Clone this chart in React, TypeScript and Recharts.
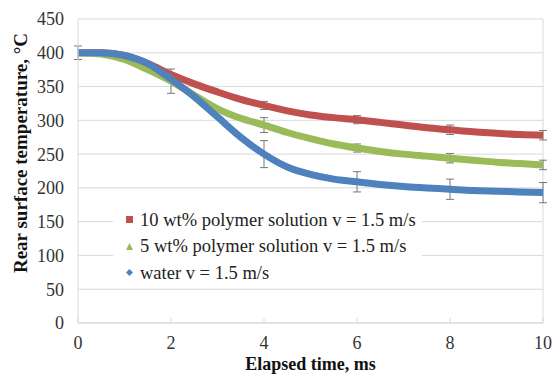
import React from 'react'
import {
  LineChart,
  Line,
  XAxis,
  YAxis,
  CartesianGrid,
  Legend,
  ErrorBar,
  ReferenceLine
} from 'recharts'

// elapsed time, ms
const time = [0, 0.5, 1, 1.5, 2, 2.5, 3, 3.5, 4, 4.5, 5, 5.5, 6, 6.5, 7, 7.5, 8, 8.5, 9, 9.5, 10]

// rear surface temperature, °C
const polymer10 = [400, 400, 396, 384, 368, 354, 342, 331, 322, 314, 308, 304, 301, 297, 293, 289, 286, 283, 281, 279, 278]
const polymer5 = [400, 398, 390, 375, 358, 337, 317, 303, 293, 282, 273, 265, 259, 254, 250, 247, 244, 241, 238, 236, 234]
const water = [400, 400, 396, 384, 361, 335, 305, 275, 250, 231, 220, 213, 209, 205, 202, 200, 198, 196, 195, 194, 193]

// error bars (only at the measured points)
const err10 = [null, null, null, null, null, null, null, null, 6, null, null, null, 6, null, null, null, 7, null, null, null, 7]
const err5 = [null, null, null, null, 18, null, null, null, 11, null, null, null, 6, null, null, null, 7, null, null, null, 7]
const errWater = [10, null, null, null, null, null, null, null, 20, null, null, null, 15, null, null, null, 15, null, null, null, 15]

const xTicks = [0, 2, 4, 6, 8, 10]
const yTicks = [0, 50, 100, 150, 200, 250, 300, 350, 400, 450]

const labels = [
  '10 wt% polymer solution v = 1.5 m/s',
  '5 wt% polymer solution v = 1.5 m/s',
  'water v = 1.5 m/s'
]

const COLORS = ['#C0504D', '#9BBB59', '#4F81BD']
const FONT = '"Liberation Serif", "Times New Roman", serif'

const data = time.map((t, i) => ({
  t,
  p10: polymer10[i],
  p5: polymer5[i],
  w: water[i],
  e10: err10[i],
  e5: err5[i],
  ew: errWater[i]
}))

const XTick = (props: any) => {
  const { x, y, payload } = props
  return (
    <g>
      <line x1={x} x2={x} y1={y - 5} y2={y} stroke="#d9d9d9" />
      <text x={x} y={y + 26} textAnchor="middle" fontFamily={FONT} fontSize={18} fill="#333">
        {payload.value}
      </text>
    </g>
  )
}

// y axis title sits a bit above the plot's middle, like the original
const YTitle = () => (
  <text
    x={20}
    y={153}
    transform="rotate(-90, 20, 153)"
    textAnchor="middle"
    dominantBaseline="central"
    fontFamily={FONT}
    fontWeight="bold"
    fontSize={19}
    fill="#111"
  >
    Rear surface temperature, °C
  </text>
)

const markers = ['square', 'triangle', 'diamond']

const LegendBox = () => (
  <div style={{ background: '#fff', fontFamily: FONT, fontSize: 18.5, color: '#222', paddingTop: 2 }}>
    {labels.map((l, i) => (
      <div key={l} style={{ display: 'flex', alignItems: 'center', height: 26.5, whiteSpace: 'nowrap' }}>
        <svg width={24} height={12} style={{ flexShrink: 0 }}>
          {markers[i] === 'square' && <rect x={13} y={2} width={7} height={7} fill={COLORS[i]} />}
          {markers[i] === 'triangle' && <polygon points="16.5,2 20,9 13,9" fill={COLORS[i]} />}
          {markers[i] === 'diamond' && <polygon points="16.5,2 20,5.5 16.5,9 13,5.5" fill={COLORS[i]} />}
        </svg>
        <span style={{ marginLeft: 3 }}>{l}</span>
      </div>
    ))}
  </div>
)

const App = () => {
  return (
    <div style={{ position: 'absolute', left: 0, top: 0, width: 553, height: 374, background: '#fff' }}>
      <LineChart width={553} height={374} data={data} margin={{ top: 19, right: 10, bottom: 0, left: 0 }}>
        <CartesianGrid vertical={false} stroke="#d9d9d9" />
        <XAxis
          dataKey="t"
          type="number"
          height={51}
          domain={[0, 10]}
          ticks={xTicks}
          interval={0}
          tickLine={false}
          tickSize={0}
          tickMargin={0}
          stroke="#d9d9d9"
          tick={<XTick />}
          label={{
            value: 'Elapsed time, ms',
            position: 'insideBottom',
            offset: 4,
            style: { fontFamily: FONT, fontWeight: 'bold', fontSize: 18, fill: '#111' }
          }}
        />
        <YAxis
          type="number"
          width={78}
          domain={[0, 450]}
          ticks={yTicks}
          interval={0}
          tickLine={false}
          stroke="#d9d9d9"
          tickMargin={8}
          tick={{ fontFamily: FONT, fontSize: 18, fill: '#333' }}
          label={<YTitle />}
        />
        <ReferenceLine x={10} stroke="#d9d9d9" />
        <Legend
          layout="vertical"
          align="center"
          verticalAlign="middle"
          content={<LegendBox />}
          wrapperStyle={{ position: 'absolute', left: 113, top: 205, width: 309, height: 80 }}
        />
        <Line type="monotone" dataKey="p10" name={labels[0]} stroke={COLORS[0]} strokeWidth={7} dot={false} isAnimationActive={false}>
          <ErrorBar dataKey="e10" width={4} stroke="#777" strokeWidth={1} />
        </Line>
        <Line type="monotone" dataKey="p5" name={labels[1]} stroke={COLORS[1]} strokeWidth={7} dot={false} isAnimationActive={false}>
          <ErrorBar dataKey="e5" width={4} stroke="#777" strokeWidth={1} />
        </Line>
        <Line type="monotone" dataKey="w" name={labels[2]} stroke={COLORS[2]} strokeWidth={7} dot={false} isAnimationActive={false}>
          <ErrorBar dataKey="ew" width={4} stroke="#777" strokeWidth={1} />
        </Line>
      </LineChart>
    </div>
  )
}

export default App
